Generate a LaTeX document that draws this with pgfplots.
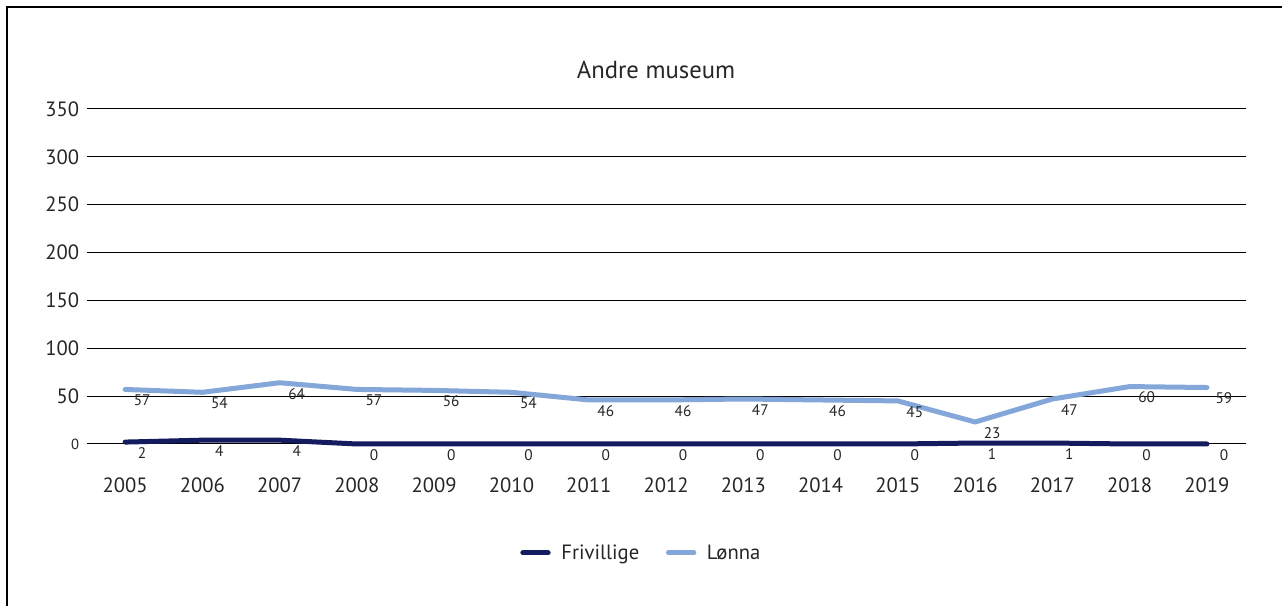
\documentclass[border=0pt]{standalone}
\usepackage{pgfplots}
\pgfplotsset{compat=1.18}
\usepackage{fontspec}
\setmainfont{PT Sans}
\definecolor{navy}{HTML}{141B5E}
\definecolor{lblue}{HTML}{84A7DA}
\definecolor{txt}{HTML}{262626}
\begin{document}
\begin{tikzpicture}
\useasboundingbox (0pt,0pt) rectangle (961.5pt,454.5pt);
\draw[line width=1.5pt,black] (4.875pt,-5pt) -- (4.875pt,449.6pt) -- (970pt,449.6pt);
\node[font=\fontsize{18.5}{22}\selectfont,text=txt] at (492pt,402pt) {Andre museum};
\begin{axis}[
  at={(64.875pt,121.5pt)}, anchor=south west,
  scale only axis, width=869.3pt, height=251.25pt,
  clip=false,
  xmin=-0.5, xmax=14.5, ymin=0, ymax=350,
  xtick={0,...,14},
  xticklabels={2005,2006,2007,2008,2009,2010,2011,2012,2013,2014,2015,2016,2017,2018,2019},
  ytick={0,50,...,350},
  yticklabels={{\fontsize{11}{12}\selectfont 0},50,100,150,200,250,300,350},
  ymajorgrids, grid style={black, line width=0.75pt},
  axis line style={draw=none},
  major tick length=0pt,
  tick label style={font=\fontsize{15.5}{18}\selectfont, text=txt},
  /pgf/number format/assume math mode=true,
  xticklabel style={yshift=-22pt},
  yticklabel style={xshift=-2pt},
  nodes near coords,
  every node near coord/.append style={font=\fontsize{11.5}{12}\selectfont, text=txt, anchor=center, xshift=12.75pt, yshift=-8.25pt},
  legend columns=2,
  legend style={at={(0.479,-0.325)}, anchor=center, draw=none, font=\fontsize{15.5}{18}\selectfont, text=txt,
    /tikz/every odd column/.append style={column sep=6pt},
    /tikz/every even column/.append style={column sep=18pt}},
  legend image code/.code={\draw[#1, line cap=round] (0pt,0pt) -- (19pt,0pt);},
]
\addplot[navy, line width=3.75pt, line cap=round, line join=round] coordinates {
(0,2) (1,4) (2,4) (3,0) (4,0) (5,0) (6,0) (7,0) (8,0) (9,0) (10,0) (11,1) (12,1) (13,0) (14,0)};
\addlegendentry{Frivillige}
\addplot[lblue, line width=3.75pt, line cap=round, line join=round] coordinates {
(0,57) (1,54) (2,64) (3,57) (4,56) (5,54) (6,46) (7,46) (8,47) (9,46) (10,45) (11,23) (12,47) (13,60) (14,59)};
\addlegendentry{Lønna}
\end{axis}
\end{tikzpicture}
\end{document}
